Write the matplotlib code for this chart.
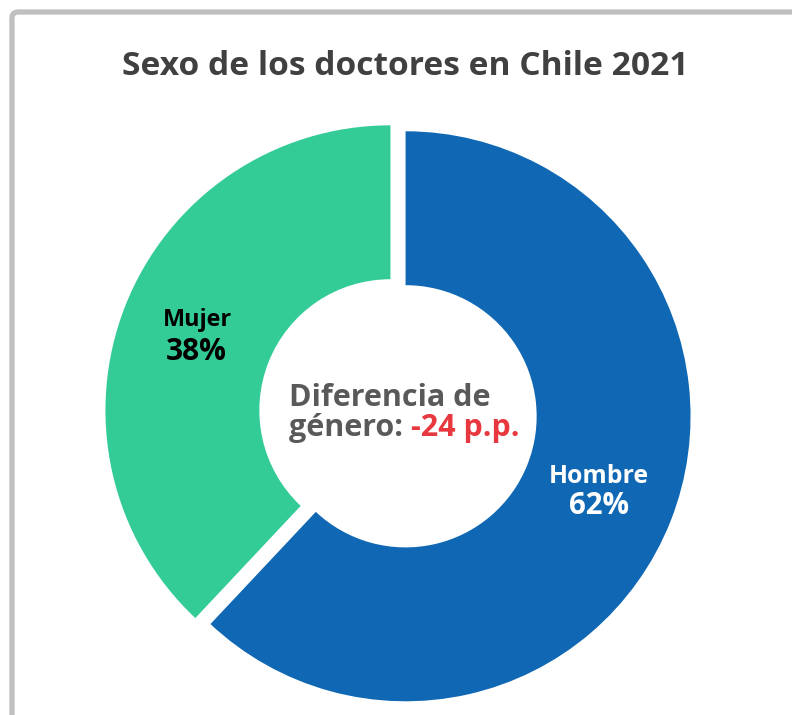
import matplotlib
matplotlib.use("Agg")
import matplotlib.pyplot as plt
from matplotlib.patches import FancyBboxPatch

title = "Sexo de los doctores en Chile 2021"
categories = ["Hombre", "Mujer"]
values = [62, 38]
colors = ["#1068B4", "#34CC96"]
label_colors = ["white", "black"]
center_line1 = "Diferencia de"
center_line2a = "género: "
center_line2b = "-24 p.p."

W, H, DPI = 792, 715, 100
fig = plt.figure(figsize=(W / DPI, H / DPI), dpi=DPI)
fig.patch.set_facecolor("white")
FONT = "Open Sans"

# frame (gray border on top and left, continuing off the canvas)
frame = FancyBboxPatch((12 / W, -0.2), 1.2, 0.2 + 1 - 12 / H,
                       boxstyle="round,pad=0,rounding_size=0.008",
                       transform=fig.transFigure, fill=False,
                       edgecolor="#C0C0C0", linewidth=3.8)
fig.patches.append(frame)

R = 285.0
cx, cy = 398.0, H - 413.3
S = 720.0
ax = fig.add_axes([(cx - S / 2) / W, (cy - S / 2) / H, S / W, S / H])

explode = [0.0285, 0.0285]
ax.pie(values, colors=colors, startangle=90, counterclock=False,
       explode=explode, radius=1.0,
       wedgeprops=dict(width=0.54, linewidth=0))
lim = S / 2 / R
ax.set_xlim(-lim, lim)
ax.set_ylim(-lim, lim)
ax.set_aspect("equal")
ax.axis("off")

renderer = fig.canvas.get_renderer()


def fit_text(s, x, y, target_w, color, ha="center", size0=20):
    t = fig.text(x / W, 1 - y / H, s, ha=ha, va="baseline", color=color,
                 fontsize=size0, fontweight="bold", family=FONT)
    for _ in range(2):
        w = t.get_window_extent(renderer).width
        t.set_fontsize(t.get_fontsize() * target_w / w)
    return t


fit_text(title, 405.0, 75.0, 566, "#404040")
fit_text(categories[1], 197.2, 326.0, 69, label_colors[1], size0=15)
fit_text(f"{values[1]}%", 196.7, 360.0, 61, label_colors[1], size0=19)
fit_text(categories[0], 599.3, 483.3, 100, label_colors[0], size0=15)
fit_text(f"{values[0]}%", 599.3, 514.3, 60, label_colors[0], size0=19)

t1 = fit_text(center_line1, 289.3, 406.0, 201, "#595959", ha="left")
size_c = t1.get_fontsize()
ta = fig.text(289.3 / W, 1 - 436.0 / H, center_line2a, ha="left", va="baseline",
              color="#595959", fontsize=size_c, fontweight="bold", family=FONT)
wa = ta.get_window_extent(renderer).x1
tb = fig.text(wa / W, 1 - 436.0 / H, center_line2b, ha="left", va="baseline",
              color="#E8383F", fontsize=size_c, fontweight="bold", family=FONT)

fig.savefig("out.png", dpi=DPI)
